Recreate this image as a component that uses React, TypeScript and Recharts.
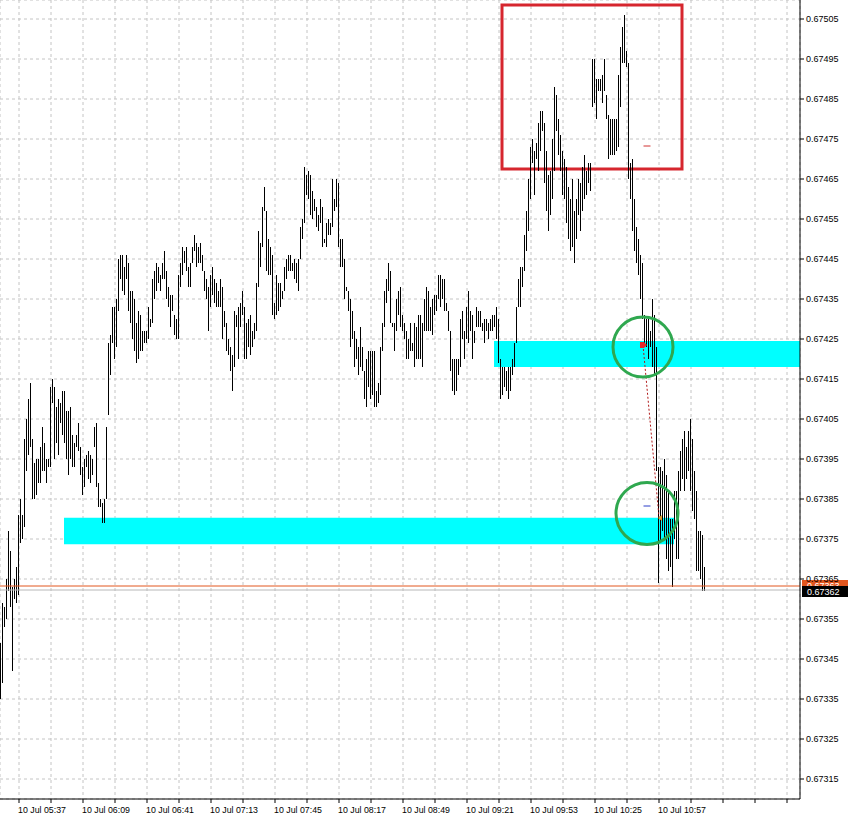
import React from 'react';
import {
  ComposedChart,
  Bar,
  XAxis,
  YAxis,
  CartesianGrid,
  ReferenceArea,
  ReferenceLine,
  ReferenceDot,
} from 'recharts';

// Minute bars starting 10 Jul 05:28 (prices in points, x100000)
const START_MINUTE = 5 * 60 + 28;
const SLOTS = 400;

const highs = [
  67349, 67359, 67358, 67365, 67377, 67372, 67363, 67365, 67368, 67381,
  67385, 67381, 67400, 67405, 67410, 67414, 67400, 67394, 67395, 67395,
  67398, 67403, 67399, 67395, 67395, 67413, 67415, 67413, 67408, 67410,
  67409, 67412, 67412, 67407, 67407, 67408, 67401, 67399, 67401, 67404,
  67398, 67393, 67395, 67396, 67397, 67396, 67395, 67403, 67404, 67389,
  67385, 67384, 67385, 67403, 67424, 67426, 67433, 67433, 67435, 67445,
  67446, 67446, 67443, 67446, 67444, 67437, 67437, 67435, 67429, 67432,
  67431, 67427, 67427, 67427, 67433, 67430, 67440, 67442, 67444, 67443,
  67441, 67444, 67447, 67442, 67438, 67436, 67436, 67431, 67430, 67441,
  67444, 67448, 67447, 67448, 67443, 67444, 67448, 67451, 67449, 67448,
  67449, 67446, 67442, 67440, 67438, 67441, 67443, 67440, 67439, 67437,
  67440, 67438, 67432, 67429, 67425, 67423, 67421, 67432, 67431, 67433,
  67434, 67437, 67433, 67429, 67430, 67431, 67427, 67429, 67439, 67452,
  67449, 67458, 67463, 67457, 67450, 67448, 67446, 67434, 67441, 67439,
  67439, 67437, 67443, 67445, 67446, 67446, 67444, 67445, 67444, 67445,
  67453, 67455, 67468, 67466, 67467, 67466, 67462, 67460, 67458, 67456,
  67460, 67458, 67450, 67454, 67455, 67454, 67465, 67460, 67465, 67464,
  67450, 67450, 67445, 67438, 67437, 67435, 67432, 67427, 67425, 67423,
  67428, 67423, 67417, 67420, 67422, 67422, 67422, 67422, 67412, 67414,
  67423, 67429, 67437, 67440, 67444, 67442, 67429, 67429, 67435, 67437,
  67438, 67431, 67429, 67427, 67425, 67429, 67424, 67429, 67428, 67431,
  67431, 67429, 67435, 67438, 67437, 67433, 67435, 67436, 67436, 67441,
  67441, 67440, 67440, 67434, 67432, 67427, 67420, 67420, 67420, 67420,
  67430, 67432, 67427, 67433, 67437, 67432, 67431, 67427, 67433, 67432,
  67432, 67429, 67430, 67430, 67429, 67430, 67431, 67431, 67433, 67430,
  67420, 67418, 67418, 67417, 67418, 67418, 67420, 67424, 67433, 67440,
  67443, 67443, 67451, 67457, 67465, 67473, 67475, 67472, 67474, 67479,
  67482, 67482, 67479, 67472, 67466, 67467, 67475, 67488, 67486, 67480,
  67476, 67472, 67470, 67468, 67463, 67460, 67465, 67457, 67460, 67465,
  67464, 67468, 67471, 67467, 67469, 67469, 67495, 67495, 67490, 67490,
  67490, 67491, 67495, 67486, 67481, 67480, 67480, 67480, 67480, 67491,
  67498, 67503, 67506, 67497, 67494, 67469, 67470, 67460, 67453, 67450,
  67446, 67444, 67431, 67430, 67430, 67427, 67435, 67431, 67423, 67393,
  67393, 67392, 67395, 67391, 67387, 67380, 67380, 67387, 67387, 67392,
  67397, 67400, 67402, 67398, 67402, 67405, 67400, 67392, 67387, 67377,
  67377, 67376, 67368,
];

const lows = [
  67335, 67339, 67353, 67355, 67362, 67358, 67342, 67360, 67359, 67361,
  67374, 67375, 67378, 67392, 67396, 67398, 67385, 67385, 67386, 67389,
  67389, 67392, 67392, 67389, 67393, 67393, 67409, 67395, 67399, 67396,
  67404, 67401, 67399, 67395, 67391, 67395, 67393, 67393, 67398, 67397,
  67391, 67386, 67388, 67393, 67390, 67389, 67391, 67398, 67388, 67383,
  67383, 67379, 67379, 67385, 67406, 67416, 67424, 67420, 67423, 67432,
  67440, 67437, 67436, 67440, 67432, 67429, 67425, 67422, 67419, 67420,
  67422, 67422, 67424, 67424, 67425, 67428, 67429, 67435, 67437, 67439,
  67437, 67440, 67440, 67435, 67433, 67428, 67432, 67426, 67425, 67425,
  67438, 67441, 67444, 67442, 67438, 67438, 67444, 67447, 67443, 67444,
  67444, 67442, 67437, 67435, 67427, 67433, 67436, 67434, 67433, 67433,
  67433, 67425, 67428, 67422, 67421, 67417, 67412, 67418, 67428, 67420,
  67428, 67431, 67420, 67420, 67423, 67421, 67423, 67425, 67427, 67438,
  67443, 67448, 67457, 67442, 67441, 67441, 67431, 67430, 67431, 67432,
  67433, 67435, 67437, 67440, 67442, 67442, 67442, 67440, 67439, 67437,
  67445, 67450, 67454, 67461, 67460, 67456, 67455, 67457, 67453, 67452,
  67454, 67448, 67449, 67448, 67451, 67451, 67453, 67457, 67458, 67448,
  67443, 67443, 67435, 67437, 67432, 67423, 67425, 67418, 67420, 67416,
  67418, 67417, 67410, 67408, 67413, 67410, 67411, 67408, 67408, 67409,
  67411, 67422, 67428, 67434, 67437, 67429, 67428, 67422, 67427, 67431,
  67428, 67427, 67425, 67420, 67420, 67422, 67422, 67418, 67420, 67420,
  67420, 67418, 67427, 67427, 67427, 67427, 67426, 67431, 67432, 67435,
  67433, 67435, 67432, 67432, 67427, 67417, 67412, 67411, 67412, 67416,
  67418, 67425, 67420, 67425, 67424, 67427, 67420, 67424, 67428, 67428,
  67428, 67427, 67424, 67427, 67425, 67427, 67427, 67428, 67425, 67419,
  67410, 67411, 67413, 67412, 67410, 67412, 67416, 67418, 67424, 67433,
  67433, 67438, 67442, 67447, 67452, 67460, 67469, 67461, 67470, 67467,
  67472, 67477, 67464, 67457, 67452, 67456, 67460, 67467, 67477, 67471,
  67467, 67461, 67460, 67454, 67450, 67447, 67448, 67444, 67450, 67456,
  67452, 67457, 67460, 67461, 67464, 67462, 67483, 67484, 67480, 67487,
  67487, 67484, 67487, 67480, 67470, 67471, 67471, 67471, 67472, 67473,
  67483, 67494, 67494, 67493, 67465, 67460, 67452, 67447, 67444, 67441,
  67435, 67430, 67424, 67423, 67420, 67423, 67418, 67416, 67392, 67364,
  67374, 67377, 67375, 67370, 67367, 67368, 67363, 67375, 67370, 67370,
  67387, 67390, 67387, 67390, 67392, 67387, 67382, 67380, 67367, 67367,
  67365, 67362, 67362,
];

const yTicks = [
  0.67315, 0.67325, 0.67335, 0.67345, 0.67355, 0.67365, 0.67375, 0.67385, 0.67395, 0.67405,
  0.67415, 0.67425, 0.67435, 0.67445, 0.67455, 0.67465, 0.67475, 0.67485, 0.67495, 0.67505,
];

const timeLabels = [
  '10 Jul 05:37', '10 Jul 06:09', '10 Jul 06:41', '10 Jul 07:13', '10 Jul 07:45', '10 Jul 08:17',
  '10 Jul 08:49', '10 Jul 09:21', '10 Jul 09:53', '10 Jul 10:25', '10 Jul 10:57',
];

const askPrice = 0.6736325;
const bidPrice = 0.6736225;

const pad = (n: number) => String(n).padStart(2, '0');
const categories = Array.from({ length: SLOTS }, (_, i) => {
  const m = START_MINUTE + i;
  return `${pad(Math.floor(m / 60))}:${pad(m % 60)}`;
});

const data = categories.map((t, i) => ({
  t,
  r: i < highs.length ? [lows[i] / 100000, highs[i] / 100000] : null,
}));

const FIRST_TICK = 9;
const tickCats = categories.filter((_, i) => i >= FIRST_TICK && (i - FIRST_TICK) % 16 === 0);

const FONT = '"Liberation Sans", Arial, sans-serif';

const BarShape = (props: any) => {
  const { x, y, width, height } = props;
  if (x == null || y == null) return null;
  const top = Math.min(y, y + height);
  const h = Math.max(1, Math.abs(height));
  return (
    <rect
      x={Math.round(x + width / 2 - 1)}
      y={top}
      width={1}
      height={h}
      fill="#000"
      shapeRendering="crispEdges"
    />
  );
};

const XTick = (props: any) => {
  const { x, y, payload } = props;
  const idx = categories.indexOf(payload.value);
  const k = (idx - FIRST_TICK) / 16;
  if (k % 2 !== 0) return null;
  const label = timeLabels[k / 2];
  if (!label) return null;
  return (
    <text x={x - 1} y={y} dy={8} fontSize={8.8} fill="#000" textAnchor="start" fontFamily={FONT}>
      {label}
    </text>
  );
};

const priceTag = (fill: string, text: string, offTop: number) => (props: any) => {
  const vb = props.viewBox || {};
  const x = (vb.x || 0) + (vb.width || 0);
  const y = vb.y || 0;
  return (
    <g>
      <rect x={x + 2} y={y - offTop} width={46} height={11} fill={fill} />
      <text x={x + 7} y={y - offTop + 9} fontSize={9} fill="#fff" fontFamily={FONT}>
        {text}
      </text>
    </g>
  );
};

const arrowShape = (props: any) => {
  const { cx, cy } = props;
  return (
    <polygon
      points={`${cx - 3},${cy - 3} ${cx + 1},${cy - 3} ${cx + 4},${cy} ${cx + 1},${cy + 3} ${cx - 3},${cy + 3}`}
      fill="#e8282a"
    />
  );
};

const exitShape = (props: any) => {
  const { cx, cy } = props;
  return (
    <polygon points={`${cx - 1},${cy} ${cx + 3},${cy - 3} ${cx + 3},${cy + 3}`} fill="#e0a030" />
  );
};

const dashShape = (color: string) => (props: any) => {
  const { cx, cy } = props;
  return <line x1={cx - 3.5} x2={cx + 3.5} y1={cy} y2={cy} stroke={color} strokeWidth={1} />;
};

export default function App() {
  return (
    <div
      style={{
        position: 'absolute',
        left: 0,
        top: 0,
        width: 848,
        height: 817,
        background: '#fff',
        fontFamily: FONT,
      }}
    >
      <ComposedChart
        width={848}
        height={817}
        data={data}
        margin={{ top: 0, right: 0, bottom: 0, left: 0 }}
        barCategoryGap={0}
      >
        <CartesianGrid stroke="#c4c4c4" strokeDasharray="3 3" />
        <XAxis
          dataKey="t"
          ticks={tickCats}
          interval={0}
          height={18}
          tick={<XTick />}
          tickSize={4}
          axisLine={{ stroke: '#000' }}
          tickLine={{ stroke: '#000' }}
        />
        <YAxis
          orientation="right"
          width={48}
          domain={[0.6731, 0.6750975]}
          allowDataOverflow
          ticks={yTicks}
          interval={0}
          tickFormatter={(v: number) => v.toFixed(5)}
          tick={{ fontSize: 9, fill: '#000', fontFamily: FONT }}
          tickSize={4}
          tickMargin={2}
          axisLine={{ stroke: '#000' }}
          tickLine={{ stroke: '#000' }}
        />
        <ReferenceArea
          x1={categories[247]}
          x2={categories[399]}
          y1={0.67418}
          y2={0.674245}
          fill="#00ffff"
          fillOpacity={1}
          stroke="none"
        />
        <ReferenceArea
          x1={categories[32]}
          x2={categories[336]}
          y1={0.673737}
          y2={0.6738033}
          fill="#00ffff"
          fillOpacity={1}
          stroke="none"
        />
        <ReferenceLine y={askPrice} stroke="#e2561e" label={priceTag('#e2561e', '0.67363', 6)} />
        <ReferenceLine y={bidPrice} stroke="#b8b8b8" label={priceTag('#000', '0.67362', 4)} />
        <Bar dataKey="r" isAnimationActive={false} shape={<BarShape />} />
        <ReferenceArea
          x1={categories[251]}
          x2={categories[340]}
          y1={0.674675}
          y2={0.675085}
          fill="none"
          fillOpacity={0}
          stroke="#d6262e"
          strokeWidth={3}
        />
        <ReferenceLine
          segment={[
            { x: categories[321], y: 0.674235 },
            { x: categories[329], y: 0.673805 },
          ]}
          stroke="#b01818"
          strokeDasharray="2 2"
        />
        <ReferenceDot
          x={categories[321]}
          y={0.67423}
          r={30}
          fill="none"
          stroke="#2fa84f"
          strokeWidth={3}
        />
        <ReferenceDot
          x={categories[323]}
          y={0.6738138}
          r={31}
          fill="none"
          stroke="#2fa84f"
          strokeWidth={3}
        />
        <ReferenceDot x={categories[321]} y={0.674235} shape={arrowShape} />
        <ReferenceDot x={categories[329]} y={0.6738025} shape={exitShape} />
        <ReferenceDot x={categories[323]} y={0.6747325} shape={dashShape('#d03030')} />
        <ReferenceDot x={categories[323]} y={0.6738325} shape={dashShape('#2a3cc8')} />
      </ComposedChart>
    </div>
  );
}
